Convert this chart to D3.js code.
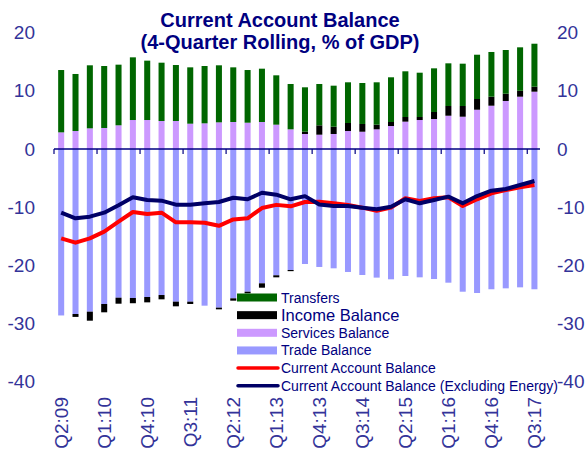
<html>
<head>
<script src="https://d3js.org/d3.v7.min.js"></script>
<style>
  body { margin: 0; background: #fff; }
  text { font-family: Arial, "Liberation Sans", sans-serif; }
</style>
</head>
<body>
<svg id="chart" width="587" height="453"></svg>
<script>
// quarters Q2:09 .. Q3:17
const quarters = [];
for (let y = 2009; y <= 2017; y++) {
  for (let q = 1; q <= 4; q++) {
    if ((y == 2009 && q < 2) || (y == 2017 && q > 3)) continue;
    quarters.push("Q" + q + ":" + String(y).slice(2));
  }
}

const trade = [-28.6, -28.35, -27.95, -26.63, -25.55, -25.6, -25.43, -25.09, -26.23, -26.23, -26.92, -27.26, -25.66, -24.52, -23.08, -21.7, -20.79,
               -19.76, -20.27, -20.5, -21.13, -21.65, -22.1, -22.39, -21.82, -22.05, -22.34, -22.97, -24.52, -24.74, -24.1, -23.94, -23.77, -24.1];
const services = [2.86, 3.09, 3.55, 3.61, 4.07, 4.98, 4.98, 4.81, 4.81, 4.35, 4.41, 4.58, 4.64, 4.52, 4.64, 4.18, 3.38,
                  2.58, 2.46, 2.58, 3.09, 2.97, 3.38, 3.95, 4.7, 4.98, 5.15, 5.72, 5.55, 6.75, 7.44, 8.25, 8.99, 9.85];
const income = [0, -0.5, -1.55, -1.43, -1.03, -0.9, -0.92, -0.74, -0.8, -0.4, 0, -0.29, -0.4, -0.28, -0.75, -0.35, -0.2,
                0.39, 1.61, 1.25, 1.38, 1.33, 0.8, 0.69, 0.8, 0.52, 1.21, 1.67, 1.84, 1.84, 1.55, 1.25, 1.01, 0.85];
const transfers = [10.71, 9.8, 10.83, 10.65, 10.42, 10.77, 10.2, 10.02, 9.62, 9.68, 9.85, 9.8, 9.39, 9.05, 9.16, 8.48, 7.79,
                   7.63, 7.1, 7.05, 6.99, 7.04, 7.28, 7.68, 7.85, 7.61, 7.5, 7.33, 7.27, 7.61, 7.68, 7.51, 7.47, 7.39];
const currentAccount = [-15.35, -16.1, -15.35, -14.2, -12.49, -10.82, -11.17, -10.94, -12.6, -12.6, -12.66, -13.2, -12.1, -11.9, -10.15, -9.6, -9.85,
                        -9.1, -9.05, -9.33, -9.62, -10.08, -10.6, -10.08, -8.47, -8.93, -8.47, -8.3, -9.79, -8.64, -7.62, -7.05, -6.59, -6.19];
const caExEnergy = [-10.94, -11.91, -11.63, -10.94, -9.67, -8.3, -8.76, -8.88, -9.57, -9.57, -9.33, -9.1, -8.37, -8.64, -7.51, -7.85, -8.64,
                    -8.1, -9.55, -9.79, -9.79, -10.08, -10.36, -9.91, -8.64, -9.33, -8.76, -8.19, -9.33, -8.08, -7.16, -6.87, -6.19, -5.5];
const yTicks = [20, 10, 0, -10, -20, -30, -40];

const keys = ["trade", "services", "income", "transfers"];
const colors = {trade: "#9999ff", services: "#cc99ff", income: "#000000", transfers: "#006600"};

const rows = quarters.map((q, i) => ({q: q, trade: trade[i], services: services[i], income: income[i], transfers: transfers[i]}));

const svg = d3.select("#chart");

const x = d3.scaleBand().domain(quarters).range([54, 541.6]).paddingInner(0.58).paddingOuter(0.29);
const y = d3.scaleLinear().domain([-40, 20]).range([381.8, 32.6]);

const series = d3.stack().keys(keys).offset(d3.stackOffsetDiverging)(rows);

svg.append("g").selectAll("g")
  .data(series)
  .enter().append("g")
  .attr("fill", d => colors[d.key])
  .selectAll("rect")
  .data(d => d)
  .enter().append("rect")
  .attr("x", d => x(d.data.q))
  .attr("width", x.bandwidth())
  .attr("y", d => y(Math.max(d[0], d[1])))
  .attr("height", d => Math.abs(y(d[0]) - y(d[1])));

// zero axis
const step = x.step();
svg.append("line")
  .attr("x1", 54).attr("x2", 540)
  .attr("y1", y(0)).attr("y2", y(0))
  .attr("stroke", "#000080").attr("stroke-width", 1.5);
const tickIdx = d3.range(0, quarters.length, 3);
svg.append("g").selectAll("line")
  .data(tickIdx)
  .enter().append("line")
  .attr("x1", i => x(quarters[i]) - (step - x.bandwidth()) / 2)
  .attr("x2", i => x(quarters[i]) - (step - x.bandwidth()) / 2)
  .attr("y1", y(0)).attr("y2", y(0) + 5)
  .attr("stroke", "#000080").attr("stroke-width", 1.2);

// lines
const line = d3.line().x((d, i) => x(quarters[i]) + x.bandwidth() / 2).y(d => y(d));
svg.append("path").datum(currentAccount)
  .attr("d", line).attr("fill", "none").attr("stroke", "#ff0000").attr("stroke-width", 4).attr("stroke-linejoin", "round");
svg.append("path").datum(caExEnergy)
  .attr("d", line).attr("fill", "none").attr("stroke", "#000066").attr("stroke-width", 4).attr("stroke-linejoin", "round");

// y tick labels both sides
svg.append("g").selectAll("text")
  .data(yTicks).enter().append("text")
  .attr("x", 35).attr("y", d => y(d)).attr("dy", "0.35em")
  .attr("text-anchor", "end").attr("font-size", 19).attr("fill", "#333399")
  .text(d => d);
svg.append("g").selectAll("text")
  .data(yTicks).enter().append("text")
  .attr("x", 557).attr("y", d => y(d)).attr("dy", "0.35em")
  .attr("text-anchor", "start").attr("font-size", 19).attr("fill", "#333399")
  .text(d => d);

// x labels
svg.append("g").selectAll("text")
  .data(tickIdx).enter().append("text")
  .attr("transform", i => `translate(${x(quarters[i]) + x.bandwidth() / 2},397) rotate(-90)`)
  .attr("dy", "0.35em")
  .attr("text-anchor", "end").attr("font-size", 19).attr("fill", "#333399")
  .text(i => quarters[i]);

// title
svg.append("text").attr("x", 280).attr("y", 27).attr("text-anchor", "middle")
  .attr("font-size", 20).attr("font-weight", "bold").attr("fill", "#000080")
  .text("Current Account Balance");
svg.append("text").attr("x", 280).attr("y", 49).attr("text-anchor", "middle")
  .attr("font-size", 20).attr("font-weight", "bold").attr("fill", "#000080")
  .text("(4-Quarter Rolling, % of GDP)");

// legend
const legendItems = [
  {label: "Transfers", color: colors.transfers, type: "bar", size: 14},
  {label: "Income Balance", color: colors.income, type: "bar", size: 16.5},
  {label: "Services Balance", color: colors.services, type: "bar", size: 14},
  {label: "Trade Balance", color: colors.trade, type: "bar", size: 14},
  {label: "Current Account Balance", color: "#ff0000", type: "line", size: 14},
  {label: "Current Account Balance (Excluding Energy)", color: "#000066", type: "line", size: 14}
];
const lg = svg.append("g").selectAll("g")
  .data(legendItems).enter().append("g")
  .attr("transform", (d, i) => `translate(237,${297.5 + i * 17.65})`);
lg.filter(d => d.type == "bar").append("rect")
  .attr("x", 0).attr("y", -4).attr("width", 40).attr("height", 8).attr("fill", d => d.color);
lg.filter(d => d.type == "line").append("line")
  .attr("x1", 1).attr("x2", 41).attr("y1", 0).attr("y2", 0)
  .attr("stroke", d => d.color).attr("stroke-width", 3.5).attr("stroke-linecap", "round");
lg.append("text")
  .attr("x", 44).attr("y", 0).attr("dy", "0.36em")
  .attr("font-size", d => d.size).attr("fill", "#000080")
  .text(d => d.label);
</script>
</body>
</html>
